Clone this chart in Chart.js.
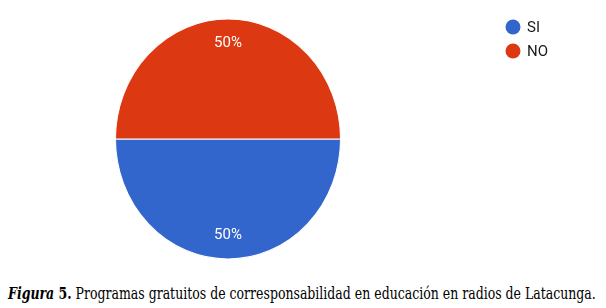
<!DOCTYPE html>
<html>
<head>
<meta charset="utf-8">
<script src="https://cdn.jsdelivr.net/npm/chart.js@4.4.0/dist/chart.umd.min.js"></script>
<style>
  html, body { margin: 0; padding: 0; background: #fff; }
  #wrap { position: relative; width: 606px; height: 282px; }
  #caption {
    position: absolute; left: 8px; top: 283px; white-space: nowrap;
    font-family: "DejaVu Serif", serif; font-size: 17px; color: #000;
    transform-origin: 0 0;
  }
  #caption b { font-weight: bold; }
</style>
</head>
<body>
<div id="wrap"><canvas id="pie-chart"></canvas></div>
<div id="caption"><b><i>Figura</i> 5.</b> Programas gratuitos de corresponsabilidad en educación en radios de Latacunga.</div>
<script>
// Data
const labels = ['SI', 'NO'];
const values = [50, 50];
const colors = ['#3366cc', '#dc3912'];

const stretchY = 1.067; // reference pie is a bit taller than wide

// squash the arcs vertically like the reference
const stretchPlugin = {
  id: 'stretch',
  beforeDatasetsDraw(chart) {
    const arc = chart.getDatasetMeta(0).data[0];
    const ctx = chart.ctx;
    ctx.save();
    ctx.translate(arc.x, arc.y);
    ctx.scale(1, stretchY);
    ctx.translate(-arc.x, -arc.y);
  },
  afterDatasetsDraw(chart) {
    chart.ctx.restore();
  }
};

// percentage labels inside slices + legend on the right
const labelPlugin = {
  id: 'labels',
  afterDraw(chart) {
    const ctx = chart.ctx;
    const data = chart.data.datasets[0].data;
    const total = data.reduce((a, b) => a + b, 0);
    ctx.save();
    ctx.font = '15px Roboto, "Liberation Sans", sans-serif';
    ctx.fillStyle = '#ffffff';
    ctx.textAlign = 'center';
    ctx.textBaseline = 'middle';
    chart.getDatasetMeta(0).data.forEach((arc, i) => {
      const p = arc.getProps(['x', 'y', 'startAngle', 'endAngle', 'outerRadius'], true);
      const mid = (p.startAngle + p.endAngle) / 2;
      const r = p.outerRadius * 0.8;
      const x = p.x + Math.cos(mid) * r;
      const y = p.y + Math.sin(mid) * r * stretchY;
      ctx.fillText(Math.round(data[i] / total * 100) + '%', x, y);
    });

    // legend
    ctx.font = '15px Roboto, "Liberation Sans", sans-serif';
    ctx.textAlign = 'left';
    chart.data.labels.forEach((lab, i) => {
      const y = 27 + i * 24;
      ctx.beginPath();
      ctx.arc(513, y, 7.5, 0, Math.PI * 2);
      ctx.fillStyle = colors[i];
      ctx.fill();
      ctx.fillStyle = '#1a1a1a';
      ctx.fillText(lab, 527, y + 1);
    });
    ctx.restore();
  }
};

new Chart(document.getElementById('pie-chart'), {
  type: 'pie',
  data: {
    labels: labels,
    datasets: [{
      data: values,
      backgroundColor: colors,
      borderColor: '#ffffff',
      borderWidth: 1
    }]
  },
  options: {
    responsive: true,
    maintainAspectRatio: false,
    animation: false,
    rotation: 90,
    layout: { padding: { left: 115, right: 265, top: 20, bottom: 24 } },
    plugins: {
      legend: { display: false },
      tooltip: { enabled: false }
    }
  },
  plugins: [stretchPlugin, labelPlugin]
});

// fit caption to the reference width
const cap = document.getElementById('caption');
cap.style.transform = 'scaleX(' + (588 / cap.offsetWidth) + ')';
</script>
</body>
</html>
